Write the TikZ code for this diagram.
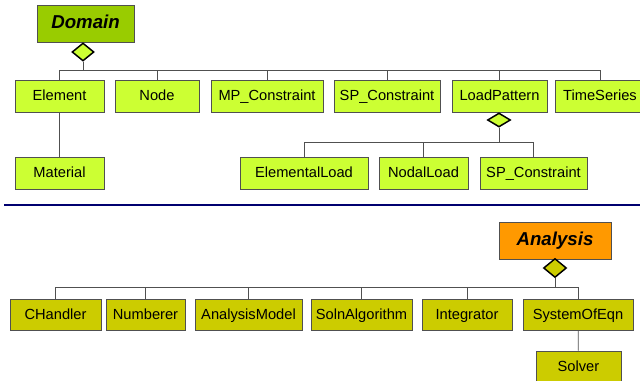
\documentclass[tikz,border=0pt]{standalone}
\usepackage{fontspec}
\setmainfont{Liberation Sans}
\usetikzlibrary{calc, positioning, shapes.geometric}
\definecolor{domgreen}{HTML}{99CC00}
\definecolor{lime}{HTML}{CCFF33}
\definecolor{olive}{HTML}{CCCC00}
\definecolor{anaorange}{HTML}{FF9900}
\definecolor{navy}{HTML}{000070}
\definecolor{edgegray}{HTML}{505050}

\begin{document}
\begin{tikzpicture}[x = 0.75pt, y = -0.75pt,
  cls/.style = {draw = edgegray, rectangle, inner sep = 0pt, minimum height = 24pt, text height = 1.6ex, text depth = 0.3ex, font = \fontsize{11}{13}\selectfont},
  top/.style = {draw = edgegray, rectangle, inner sep = 0pt, minimum height = 27.5pt, text height = 1.6ex, text depth = 0.3ex, font = \fontsize{14}{16}\selectfont\bfseries\itshape},
  agg/.style = {draw, diamond, line width = 1.1pt, inner sep = 0pt, minimum width = 16.5pt, minimum height = 13.5pt},
  link/.style = {draw = edgegray, line width = 0.6pt}]
\useasboundingbox (0,0) rectangle (640,381);

% Domain part
\node[top, fill = domgreen, minimum width = 72.75pt] (Domain) at (85.5,23.5) {Domain};
\node[agg, fill = lime] (ddia) at (83,52) {};
\node[cls, fill = lime, minimum width = 66.75pt] (Element) at (59.5,96) {Element};
\node[cls, fill = lime, minimum width = 63pt] (Node) at (157,96) {Node};
\node[cls, fill = lime, minimum width = 84pt] (MPC) at (267,96) {MP\_Constraint};
\node[cls, fill = lime, minimum width = 79.5pt] (SPC) at (387,96) {SP\_Constraint};
\node[cls, fill = lime, minimum width = 71.25pt] (LoadPattern) at (499.5,96) {LoadPattern};
\node[cls, fill = lime, minimum width = 67.5pt] (TimeSeries) at (600,96) {TimeSeries};
\node[cls, fill = lime, minimum width = 66.75pt] (Material) at (59.5,173) {Material};
\node[agg, fill = lime, minimum width = 17.25pt, minimum height = 10.5pt] (ldia) at (499,120) {};
\node[cls, fill = lime, minimum width = 96pt] (ElementalLoad) at (304,173) {ElementalLoad};
\node[cls, fill = lime, minimum width = 66.75pt] (NodalLoad) at (423.5,173) {NodalLoad};
\node[cls, fill = lime, minimum width = 80.25pt] (SPC2) at (533.5,173) {SP\_Constraint};
\coordinate (dbus) at (0,70);
\coordinate (lbus) at (0,142);

% Analysis part
\node[top, fill = anaorange, minimum width = 84pt] (Analysis) at (555,241) {Analysis};
\node[agg, fill = olive, minimum width = 17.25pt, minimum height = 14.25pt] (adia) at (555,268) {};
\node[cls, fill = olive, minimum width = 68.25pt, minimum height = 23.25pt] (CHandler) at (55.5,314.5) {CHandler};
\node[cls, fill = olive, minimum width = 59.25pt, minimum height = 23.25pt] (Numberer) at (145.5,314.5) {Numberer};
\node[cls, fill = olive, minimum width = 80.25pt, minimum height = 23.25pt] (AnalysisModel) at (248.5,314.5) {AnalysisModel};
\node[cls, fill = olive, minimum width = 75.75pt, minimum height = 23.25pt] (SolnAlgorithm) at (361.5,314.5) {SolnAlgorithm};
\node[cls, fill = olive, minimum width = 67.5pt, minimum height = 23.25pt] (Integrator) at (467,314.5) {Integrator};
\node[cls, fill = olive, minimum width = 82.5pt, minimum height = 23.25pt] (SystemOfEqn) at (578,314.5) {SystemOfEqn};
\node[cls, fill = olive, minimum width = 63.75pt, minimum height = 23.25pt] (Solver) at (578.5,366.5) {Solver};
\coordinate (abus) at (0,287);

\draw[navy, line width = 2.2pt] (4,205) -- (640,205);

\foreach \j in {Element, Node, MPC, SPC, LoadPattern, TimeSeries}{
\draw[link] (ddia.south) -- (ddia.south |- dbus) -| (\j.north);
}
\foreach \j in {ElementalLoad, NodalLoad, SPC2}{
\draw[link] (ldia.south) -- (ldia.south |- lbus) -| (\j.north);
}
\foreach \j in {CHandler, Numberer, AnalysisModel, SolnAlgorithm, Integrator, SystemOfEqn}{
\draw[link] (adia.south) -- (adia.south |- abus) -| (\j.north);
}
\draw[link] (Element) -- (Material);
\draw[link] (SystemOfEqn) -- (Solver);
\end{tikzpicture}
\end{document}
